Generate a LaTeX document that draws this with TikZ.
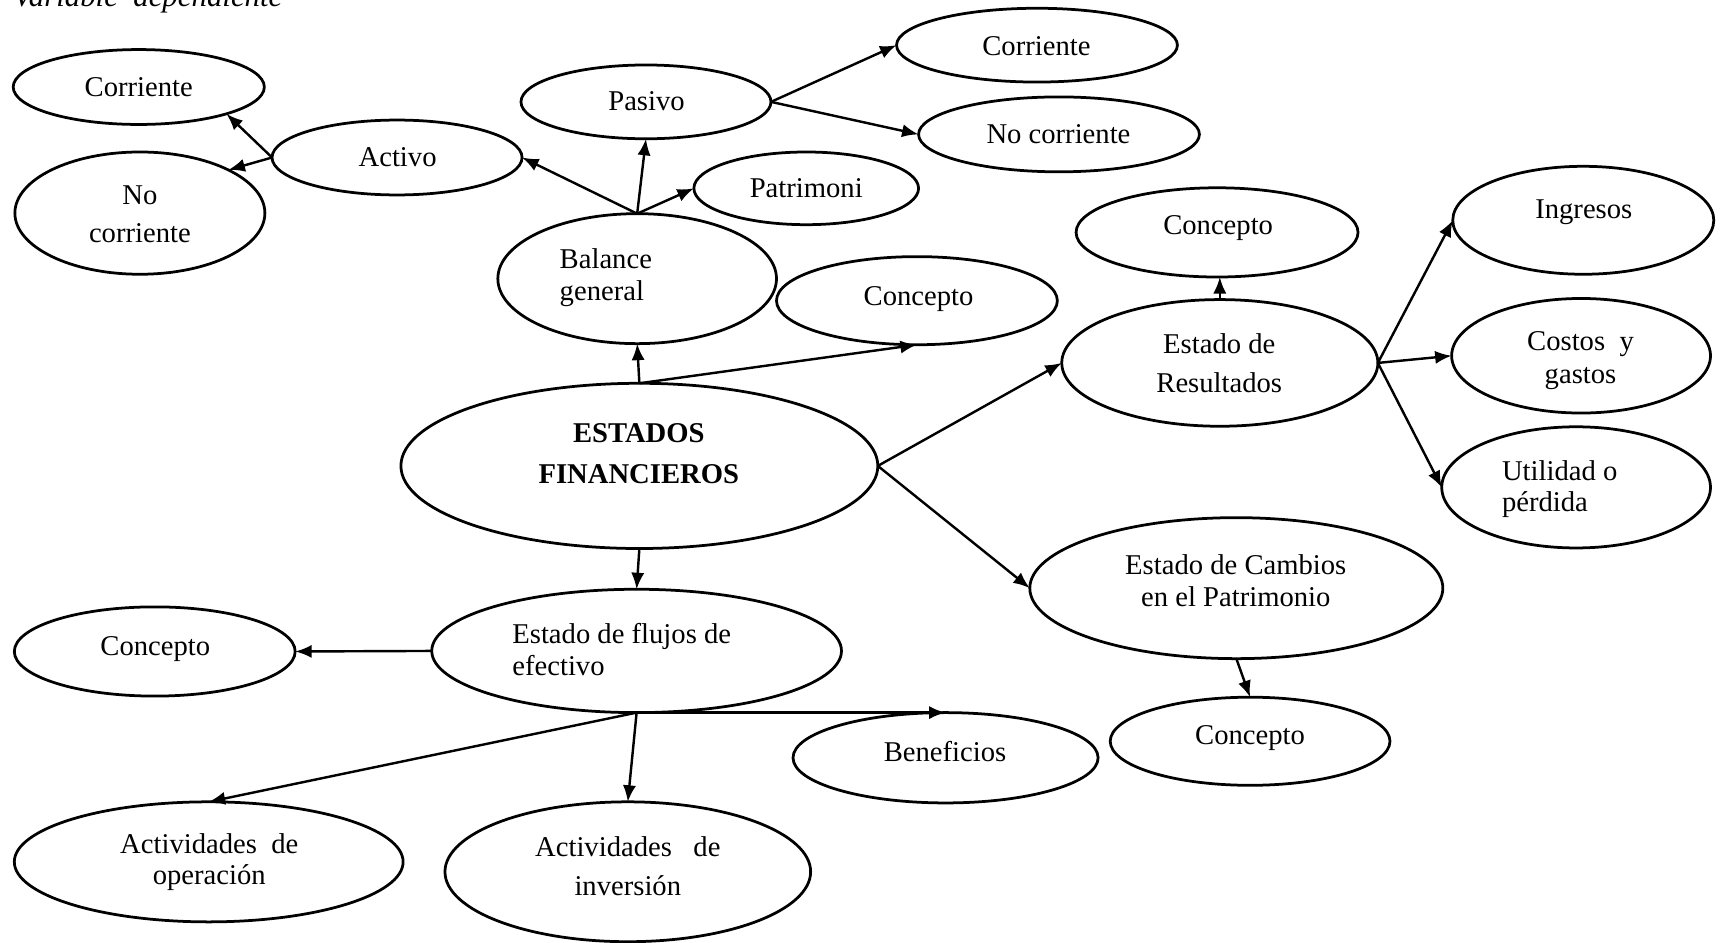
\documentclass[tikz,border=0pt]{standalone}
\usepackage{fontspec}
\setmainfont{Liberation Serif}
\usetikzlibrary{shapes.geometric,arrows.meta}
\begin{document}
\begin{tikzpicture}[x=1pt,y=-1pt,
  ell/.style={draw, ellipse, line width=2.5pt, inner sep=0pt, outer sep=0pt},
  lbl/.style={anchor=base, inner sep=0pt, font=\fontsize{26}{30}\selectfont},
  lblw/.style={anchor=base west, inner sep=0pt, font=\fontsize{26}{30}\selectfont},
  lblb/.style={anchor=base, inner sep=0pt, font=\fontsize{26}{30}\selectfont\bfseries},
  arr/.style={-{Latex[length=15pt,width=12pt]}, line width=2.2pt}]
\useasboundingbox (0,0) rectangle (1568,856);

% title (cut at the top)
\node[anchor=base west, inner sep=0pt, font=\fontsize{28}{32}\selectfont\itshape] (title) at (12,6) {Variable\ \ dependiente};

% ellipses
\node[ell, minimum width=228pt, minimum height=68pt] (cor1) at (126,79) {};
\node[ell, minimum width=227pt, minimum height=111pt] (nocor1) at (127,193.5) {};
\node[ell, minimum width=227pt, minimum height=68pt] (activo) at (360.5,143) {};
\node[ell, minimum width=227pt, minimum height=67pt] (pasivo) at (586.5,92.5) {};
\node[ell, minimum width=255pt, minimum height=67pt] (cor2) at (941.5,41) {};
\node[ell, minimum width=255pt, minimum height=68pt] (nocor2) at (961.5,122) {};
\node[ell, minimum width=204pt, minimum height=66pt] (patr) at (732,171) {};
\node[ell, minimum width=253pt, minimum height=118pt] (balance) at (578.5,253) {};
\node[ell, minimum width=255pt, minimum height=80pt] (conc1) at (832.5,273) {};
\node[ell, minimum width=433pt, minimum height=150pt] (ef) at (580.5,423) {};
\node[ell, minimum width=256pt, minimum height=81pt] (conc2) at (1105,211) {};
\node[ell, minimum width=287pt, minimum height=115pt] (er) at (1107.5,329.5) {};
\node[ell, minimum width=237pt, minimum height=98pt] (ingr) at (1437.5,200) {};
\node[ell, minimum width=235pt, minimum height=104pt] (costos) at (1435.5,323) {};
\node[ell, minimum width=244pt, minimum height=110pt] (util) at (1431,442.5) {};
\node[ell, minimum width=375pt, minimum height=128pt] (ecp) at (1122.5,534) {};
\node[ell, minimum width=254pt, minimum height=80pt] (conc3) at (1135,673) {};
\node[ell, minimum width=372pt, minimum height=112pt] (flujos) at (578,591) {};
\node[ell, minimum width=255pt, minimum height=81pt] (conc4) at (140.5,591.5) {};
\node[ell, minimum width=277pt, minimum height=82pt] (benef) at (858.5,688) {};
\node[ell, minimum width=353pt, minimum height=109pt] (actop) at (189.5,782.5) {};
\node[ell, minimum width=332pt, minimum height=127pt] (actinv) at (570,791.5) {};

% texts
\node[lbl] (t-cor1) at (126,88) {Corriente};
\node[lbl] (t-nocor1a) at (127,186) {No};
\node[lbl] (t-nocor1b) at (127,220) {corriente};
\node[lbl] (t-activo) at (361,151) {Activo};
\node[lbl] (t-pasivo) at (587,100) {Pasivo};
\node[lbl] (t-cor2) at (941,50) {Corriente};
\node[lbl] (t-nocor2) at (961,130) {No corriente};
\node[lbl] (t-patr) at (732,179) {Patrimoni};
\node[lblw] (t-bal1) at (508,243.5) {Balance};
\node[lblw] (t-bal2) at (508,273) {general};
\node[lbl] (t-conc1) at (834,277) {Concepto};
\node[lblb] (t-ef1) at (580,402) {ESTADOS};
\node[lblb] (t-ef2) at (580,439) {FINANCIEROS};
\node[lbl] (t-conc2) at (1106,213) {Concepto};
\node[lbl] (t-er1) at (1107,321) {Estado de};
\node[lbl] (t-er2) at (1107,356) {Resultados};
\node[lbl] (t-ingr) at (1438,198) {Ingresos};
\node[lbl] (t-cos1) at (1435,318.5) {Costos\ \ y};
\node[lbl] (t-cos2) at (1435,348) {gastos};
\node[lblw] (t-util1) at (1363.5,436) {Utilidad o};
\node[lblw] (t-util2) at (1363.5,464) {pérdida};
\node[lbl] (t-ecp1) at (1122,522) {Estado de Cambios};
\node[lbl] (t-ecp2) at (1122,551) {en el Patrimonio};
\node[lbl] (t-conc3) at (1135,676) {Concepto};
\node[lblw] (t-flu1) at (465,584) {Estado de flujos de};
\node[lblw] (t-flu2) at (465,613) {efectivo};
\node[lbl] (t-conc4) at (141,595) {Concepto};
\node[lbl] (t-benef) at (858,691) {Beneficios};
\node[lbl] (t-op1) at (190,775) {Actividades\ \ de};
\node[lbl] (t-op2) at (190,803.5) {operación};
\node[lbl] (t-inv1) at (570,778) {Actividades\ \ \ de};
\node[lbl] (t-inv2) at (570,813) {inversión};

% connectors
\draw[arr] (activo.west) -- (cor1.-17);
\draw[arr] (activo.west) -- (nocor1.26);
\draw[arr] (balance.north) -- (activo.east);
\draw[arr] (balance.north) -- (pasivo.south);
\draw[arr] (balance.north) -- (patr.west);
\draw[arr] (pasivo.east) -- (cor2.west);
\draw[arr] (pasivo.east) -- (nocor2.west);
\draw[arr] (ef.north) -- (balance.south);
\draw[arr] (ef.north) -- (conc1.south);
\draw[arr] (ef.east) -- (er.west);
\draw[arr] (ef.east) -- (ecp.west);
\draw[arr] (ef.south) -- (flujos.north);
\draw[arr] (er.north) -- (er.north |- conc2.south);
\draw[arr] (er.east) -- (ingr.west);
\draw[arr] (er.east) -- (costos.west);
\draw[arr] (er.east) -- (util.west);
\draw[arr] (ecp.south) -- (conc3.north);
\draw[arr] (flujos.west) -- (conc4.east);
\draw[arr] (flujos.south) -- (benef.north);
\draw[arr] (flujos.south) -- (actop.north);
\draw[arr] (flujos.south) -- (actinv.north);
\end{tikzpicture}
\end{document}
